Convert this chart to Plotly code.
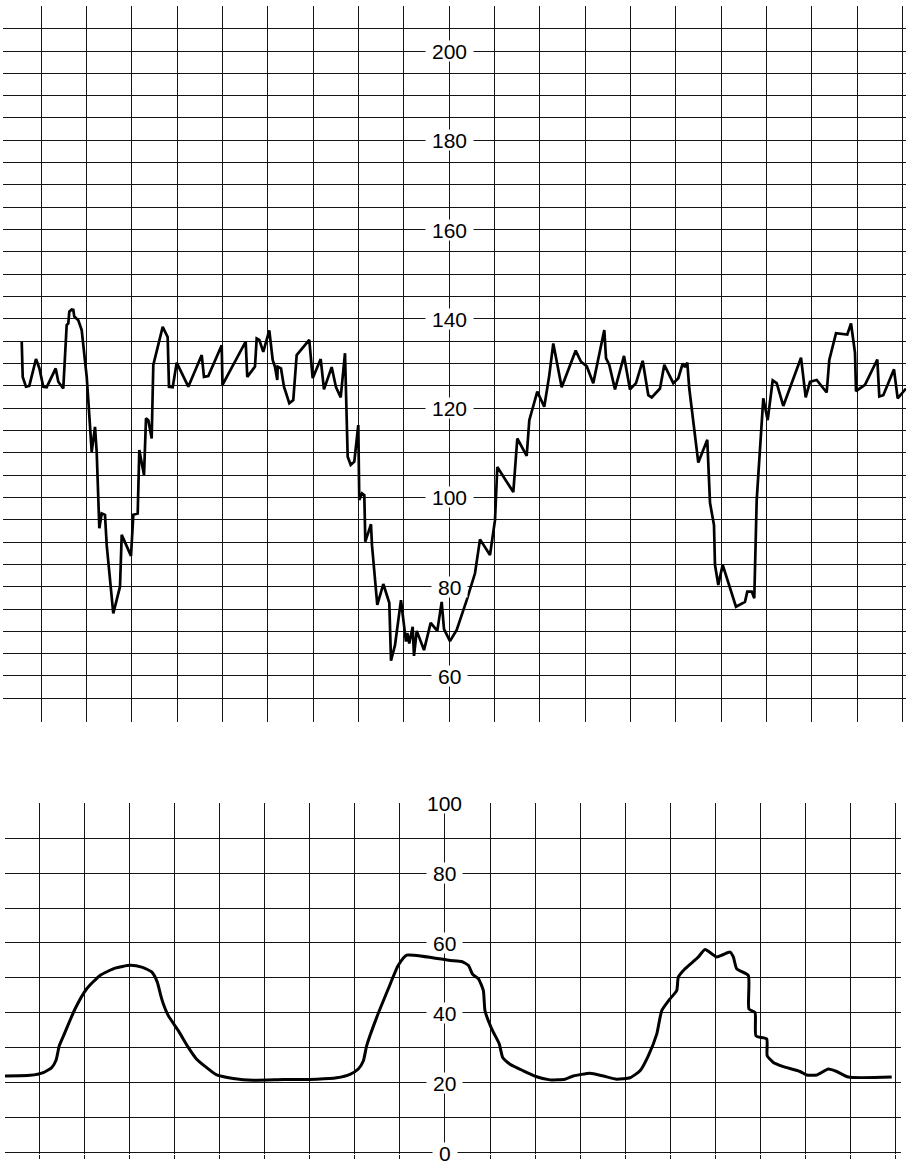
import plotly.graph_objects as go

# ---------------- data ----------------
fhr_t = [0.568,0.590,0.662,0.735,0.883,0.956,1.044,1.119,1.318,1.375,
         1.485,1.560,1.596,1.618,1.671,1.706,1.728,1.816,1.891,2.002,
         2.037,2.112,2.185,2.222,2.280,2.332,2.405,2.443,2.588,2.736,
         2.774,2.979,3.030,3.127,3.162,3.266,3.310,3.361,3.435,3.471,
         3.678,3.788,3.817,3.899,3.987,4.243,4.539,4.589,4.684,4.980,
         4.997,5.509,5.544,5.714,5.752,5.809,5.897,6.030,6.105,6.156,
         6.206,6.215,6.288,6.354,6.471,6.559,6.634,6.912,6.987,7.164,
         7.236,7.406,7.501,7.605,7.700,7.759,7.826,7.905,7.993,8.015,
         8.075,8.126,8.148,8.273,8.295,8.412,8.545,8.633,8.677,8.715,
         8.803,8.935,9.045,9.074,9.118,9.193,9.222,9.282,9.443,9.590,
         9.736,9.833,9.884,10.016,10.164,10.385,10.568,10.678,10.899,11.009,
         11.060,11.413,11.501,11.708,11.766,11.942,12.096,12.207,12.295,12.480,
         12.789,12.906,13.032,13.177,13.310,13.420,13.458,13.530,13.656,13.855,
         13.987,14.120,14.267,14.391,14.466,14.649,14.744,14.942,15.053,15.150,
         15.200,15.251,15.295,15.494,15.692,15.752,15.840,15.862,15.935,16.032,
         16.325,16.524,16.575,16.672,16.729,16.782,16.928,17.025,17.135,17.223,
         17.369,17.760,17.863,17.958,18.106,18.326,18.384,18.532,18.781,18.863,
         18.951,18.973,19.171,19.443,19.487,19.575,19.811,19.892,20.076]
fhr_bpm = [134.9,127.0,124.8,125.0,131.0,129.0,124.8,124.7,128.9,125.9,
           124.4,138.6,139.0,141.6,142.1,142.0,140.5,139.7,137.5,127.0,
           121.8,110.2,115.8,110.2,93.1,96.4,96.1,89.3,74.0,80.0,
           91.6,86.9,96.1,96.4,110.6,105.0,117.7,117.3,113.2,129.7,
           138.2,135.9,124.8,124.7,130.2,124.8,131.9,127.0,127.2,134.1,
           125.2,134.9,127.0,129.3,135.6,135.3,132.6,137.4,130.8,129.2,
           126.3,129.3,128.9,124.8,121.1,121.8,131.9,135.3,126.7,131.0,
           124.2,129.2,124.7,122.4,132.3,109.1,107.3,108.0,116.2,99.4,
           100.9,100.5,90.1,94.0,89.3,75.9,80.6,77.9,76.4,63.4,
           66.9,77.0,67.7,69.6,67.3,71.0,64.5,70.1,65.8,71.9,
           70.1,76.6,70.5,67.8,70.3,77.0,83.0,90.6,87.1,94.9,
           106.8,101.2,113.2,109.3,117.3,123.7,120.3,127.4,134.5,124.7,
           132.9,130.4,129.4,125.6,131.9,137.5,131.2,129.7,124.2,131.7,
           124.2,125.6,130.6,122.9,122.4,124.4,129.7,125.6,126.7,130.0,
           129.2,130.2,124.4,107.8,112.9,98.8,93.8,84.9,80.4,84.9,
           75.5,76.6,78.9,78.9,77.4,99.4,122.2,117.3,126.2,125.6,
           120.5,131.3,122.4,125.9,126.3,123.5,130.8,136.8,136.5,139.0,
           132.4,123.8,125.2,130.9,122.6,122.9,128.7,122.2,124.4]

uc_t = [0.20,0.794,1.089,1.275,1.371,1.444,1.570,1.792,2.052,2.347,
        2.680,3.012,3.272,3.494,3.618,3.694,3.751,3.862,4.084,4.306,
        4.492,4.714,4.936,5.305,5.748,6.414,7.155,7.599,7.894,8.078,
        8.189,8.264,8.486,8.744,8.965,9.152,10.113,10.372,10.519,10.616,
        10.741,10.852,10.889,11.038,11.206,11.282,11.444,11.739,12.036,12.331,
        12.664,12.848,13.219,13.514,13.811,14.106,14.328,14.512,14.699,14.810,
        14.994,15.143,15.178,15.327,15.622,15.771,16.031,16.177,16.326,16.399,
        16.474,16.731,16.745,16.880,16.902,17.139,17.150,17.286,17.508,17.878,
        18.027,18.249,18.506,18.693,18.950,19.913]
uc_val = [21.9,22.1,22.9,24.3,26.4,30.6,34.4,41.1,46.9,50.7,
          52.8,53.6,53.1,51.7,48.8,45.0,42.6,39.2,34.9,30.1,
          26.7,24.3,22.2,21.2,20.7,20.9,21.0,21.4,22.4,23.9,
          26.2,30.6,38.7,46.9,53.6,56.5,55.0,54.7,53.6,51.0,
          49.8,46.4,40.6,35.4,31.1,27.2,25.3,23.4,21.7,20.8,
          21.0,21.9,22.7,21.9,21.0,21.4,23.4,27.7,33.9,40.6,
          44.0,46.4,50.2,52.6,56.0,58.1,56.0,56.7,57.4,56.0,
          52.6,50.7,41.1,40.1,33.4,32.5,27.7,25.8,24.6,23.2,
          22.2,22.2,23.9,23.2,21.6,21.6]

fhr_labels = [60, 80, 100, 120, 140, 160, 180, 200]
uc_labels = [0, 20, 40, 60, 80, 100]
label_x = 10

# ---------------- figure ----------------
W, H = 906, 1172
fig = go.Figure()

fig.add_trace(go.Scatter(x=fhr_t, y=fhr_bpm, mode="lines",
                         line=dict(color="black", width=2.7),
                         xaxis="x", yaxis="y", hoverinfo="skip"))
fig.add_trace(go.Scatter(x=uc_t, y=uc_val, mode="lines",
                         line=dict(color="black", width=3, shape="spline", smoothing=0.5),
                         xaxis="x2", yaxis="y2", hoverinfo="skip"))

GRID = "#141414"
GW = 1.3
FONT = "Liberation Sans, Arial, sans-serif"

def px_x(a, b):
    return [a / W, b / W]

def px_y(top, bottom):
    return [1 - bottom / H, 1 - top / H]

fig.update_layout(
    width=W, height=H,
    margin=dict(l=0, r=0, t=0, b=0),
    paper_bgcolor="white", plot_bgcolor="white",
    showlegend=False,
    xaxis=dict(domain=px_x(2.7, 906), range=[0.1485, 20.076],
               tick0=0, dtick=1, showgrid=True, gridcolor=GRID, gridwidth=GW,
               showticklabels=False, zeroline=False, showline=False, ticks=""),
    yaxis=dict(domain=px_y(5.5, 721.5), range=[49.8, 210.2],
               tick0=0, dtick=5, showgrid=True, gridcolor=GRID, gridwidth=GW,
               showticklabels=False, zeroline=False, showline=False, ticks=""),
    xaxis2=dict(domain=px_x(5, 901), range=[0.239, 20.119], anchor="y2",
                tick0=0, dtick=1, showgrid=True, gridcolor=GRID, gridwidth=GW,
                showticklabels=False, zeroline=False, showline=False,
                ticks="outside", ticklen=4, tickcolor=GRID, tickwidth=GW),
    yaxis2=dict(domain=px_y(802.6, 1153.55), range=[-0.3, 100.2], anchor="x2",
                tick0=0, dtick=10, showgrid=True, gridcolor=GRID, gridwidth=GW,
                showticklabels=False, zeroline=False, showline=False, ticks=""),
)

annotations = []
def label(v, xr, yr):
    txt = str(v)
    return dict(x=label_x, y=v, xref=xr, yref=yr, text=txt,
                showarrow=False, bgcolor="white", borderpad=0,
                width=len(txt) * 11.7 + 12, height=20,
                font=dict(family=FONT, size=21, color="black"))

for v in fhr_labels:
    annotations.append(label(v, "x", "y"))
for v in uc_labels:
    annotations.append(label(v, "x2", "y2"))
fig.update_layout(annotations=annotations)

fig.write_html("out.html",
               config={"displayModeBar": False},
               post_script="document.body.style.margin='0';document.body.style.overflow='hidden';")
